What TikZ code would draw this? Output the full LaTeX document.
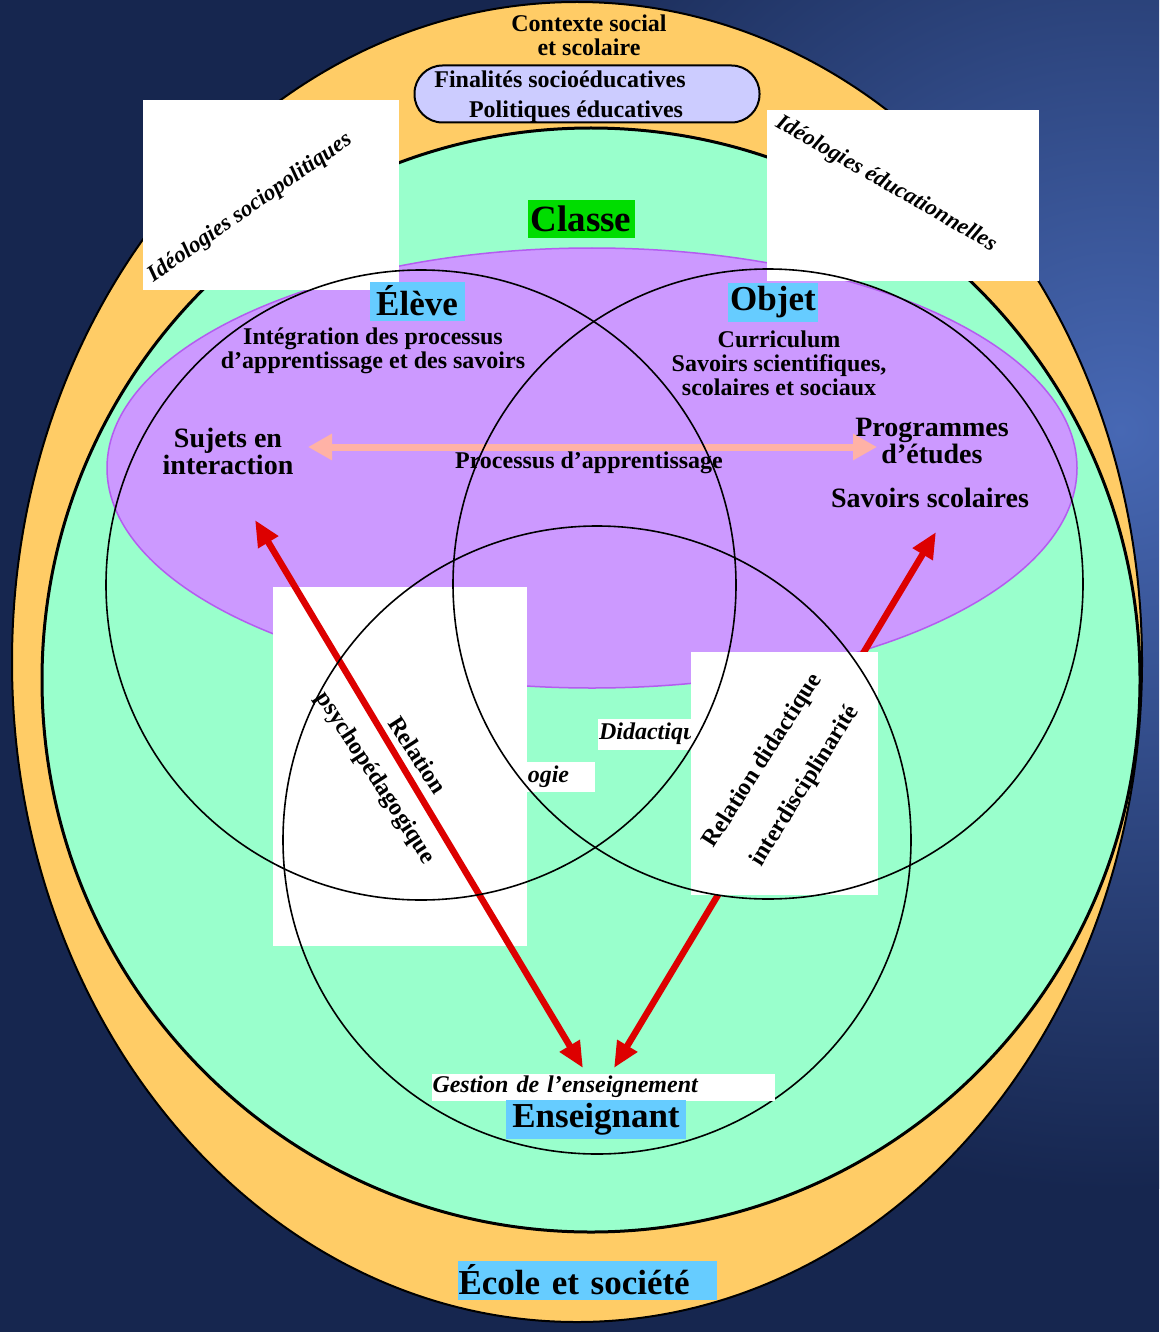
\documentclass[tikz,border=0pt]{standalone}
\usepackage{fontspec}
\setmainfont{Liberation Serif}
\usetikzlibrary{arrows.meta,positioning}
\definecolor{nightBlue}{HTML}{16264F}
\definecolor{duskBlue}{HTML}{4768B4}
\definecolor{ringOrange}{HTML}{FFCC66}
\definecolor{classGreen}{HTML}{99FFCC}
\definecolor{ovalPurple}{HTML}{CC99FF}
\definecolor{ovalEdge}{HTML}{B45CF0}
\definecolor{pillLilac}{HTML}{CCCCFF}
\definecolor{poleBlue}{HTML}{66CCFF}
\definecolor{classeTag}{HTML}{00DD00}
\definecolor{linkRed}{HTML}{DD0000}
\definecolor{flowPink}{HTML}{FFB2A6}
\tikzset{
  outerring/.style={draw=black, line width=2pt, fill=ringOrange},
  classring/.style={draw=black, line width=3pt, fill=classGreen},
  groupoval/.style={draw=ovalEdge, line width=1.5pt, fill=ovalPurple},
  venn/.style={draw=black, line width=1.6pt},
  patch/.style={fill=white, draw=none},
  pill/.style={draw=black, line width=2pt, fill=pillLilac, rounded corners=28pt, minimum width=345pt, minimum height=57pt, inner sep=0pt},
  ctx/.style={align=center, font=\fontsize{24}{24}\selectfont\bfseries},
  pilltext/.style={align=center, font=\fontsize{24}{30}\selectfont\bfseries},
  pole/.style={fill=poleBlue, inner sep=0pt, minimum height=39pt, font=\fontsize{35}{38}\selectfont\bfseries},
  tagbox/.style={fill=classeTag, inner sep=0pt, minimum width=107pt, minimum height=38pt, font=\fontsize{37}{40}\selectfont\bfseries},
  desc/.style={align=center, font=\fontsize{24}{24}\selectfont\bfseries},
  big/.style={align=center, font=\fontsize{28}{27}\selectfont\bfseries},
  proc/.style={font=\fontsize{24}{26}\selectfont\bfseries},
  strip/.style={fill=white, inner ysep=0pt, inner xsep=1pt, align=left, font=\fontsize{24}{26}\selectfont\bfseries\itshape},
  ideo/.style={font=\fontsize{23}{25}\selectfont\bfseries\itshape},
  rel/.style={font=\fontsize{24}{26}\selectfont\bfseries},
  redlink/.style={draw=linkRed, line width=6.5pt, {Triangle[length=26pt,width=22pt]}-{Triangle[length=26pt,width=22pt]}},
  pinkflow/.style={draw=flowPink, line width=7pt, {Triangle[length=24pt,width=25pt]}-{Triangle[length=24pt,width=25pt]}},
}

\begin{document}
\begin{tikzpicture}[x=1pt,y=-1pt]
  \useasboundingbox (0,0) rectangle (1159,1332);
  \fill[nightBlue] (0,0) rectangle (1159,1332);
  \begin{scope}
    \clip (0,0) rectangle (1159,1332);
    \shade[inner color=duskBlue, outer color=nightBlue] (1120,430) circle [radius=760pt];
  \end{scope}

  % nested fields
  \draw[outerring] (577,662) ellipse [x radius=565pt, y radius=660pt];
  \draw[classring] (591,680) ellipse [x radius=549pt, y radius=552pt];
  \draw[groupoval] (592,468) ellipse [x radius=485pt, y radius=220pt];

  % social context
  \node[ctx] (contexte) at (589,35) {Contexte social\\et scolaire};
  \node[pill] (finalites) at (587,94) {};
  \node[pilltext] (finalitesText) at (560,97) {Finalités socioéducatives\\\hspace*{32pt}Politiques éducatives};

  % ideologies
  \fill[patch] (143,100) rectangle (399,290);
  \fill[patch] (767,110) rectangle (1039,281);
  \node[ideo, rotate=35] (ideoSocio) at (250,208) {Idéologies sociopolitiques};
  \node[ideo, rotate=-30] (ideoEduc) at (886,184) {Idéologies éducationnelles};

  \node[tagbox] (classe) at (581,219) {Classe};

  % poles
  \node[pole, minimum width=95pt] (eleve) at (417,301) {Élève};
  \node[pole, minimum width=90pt] (objet) at (773,302) {Objet};
  \node[desc] (integration) at (373,351) {Intégration des processus\\d’apprentissage et des savoirs};
  \node[desc] (curriculum) at (779,363) {Curriculum\\Savoirs scientifiques,\\scolaires et sociaux};
  \node[big] (sujets) at (228,451) {Sujets en\\interaction};
  \node[big] (programmes) at (932,441) {Programmes\\d’études};
  \node[big] (savoirs) at (930,498) {Savoirs scolaires};

  \coordinate (procL) at (308,447);
  \coordinate (procR) at (877,447);
  \draw[pinkflow] (procL) -- (procR);
  \node[proc] (processus) at (589,463) {Processus d’apprentissage};

  % relations
  \node[strip, text width=127pt, minimum height=30pt] (pedagogie) at (530,777) {Pédagogie};
  \fill[patch] (273,587) rectangle (527,946);
  \node[rel, rotate=-57] (relPsy1) at (418,755) {Relation};
  \node[rel, rotate=-57] (relPsy2) at (375,778) {psychopédagogique};
  \node[strip, text width=120pt, minimum height=31pt] (didactique) at (659,734) {Didactique};

  \coordinate (sujetsTip) at (255,520);
  \coordinate (ensLeft) at (583,1068);
  \coordinate (savoirsTip) at (936,532);
  \coordinate (ensRight) at (614,1068);
  \draw[redlink] (ensLeft) -- (sujetsTip);
  \draw[redlink] (ensRight) -- (savoirsTip);

  \fill[patch] (691,652) rectangle (878,895);
  \node[rel, rotate=57.5] (relDid1) at (763,761) {Relation didactique};
  \node[rel, rotate=58] (relDid2) at (805,786) {interdisciplinarité};

  % three poles
  \draw[venn] (421,585) circle [radius=315pt];
  \draw[venn] (768,584) circle [radius=315pt];
  \draw[venn] (597,840) circle [radius=314pt];

  \node[strip, text width=341pt, minimum height=27pt] (gestion) at (603,1087) {Gestion de l’enseignement};
  \node[pole, minimum width=180pt] (enseignant) at (596,1119) {Enseignant};
  \node[pole, text width=257pt, inner xsep=1pt, align=left] (ecole) at (587,1280) {École et société};
\end{tikzpicture}
\end{document}
